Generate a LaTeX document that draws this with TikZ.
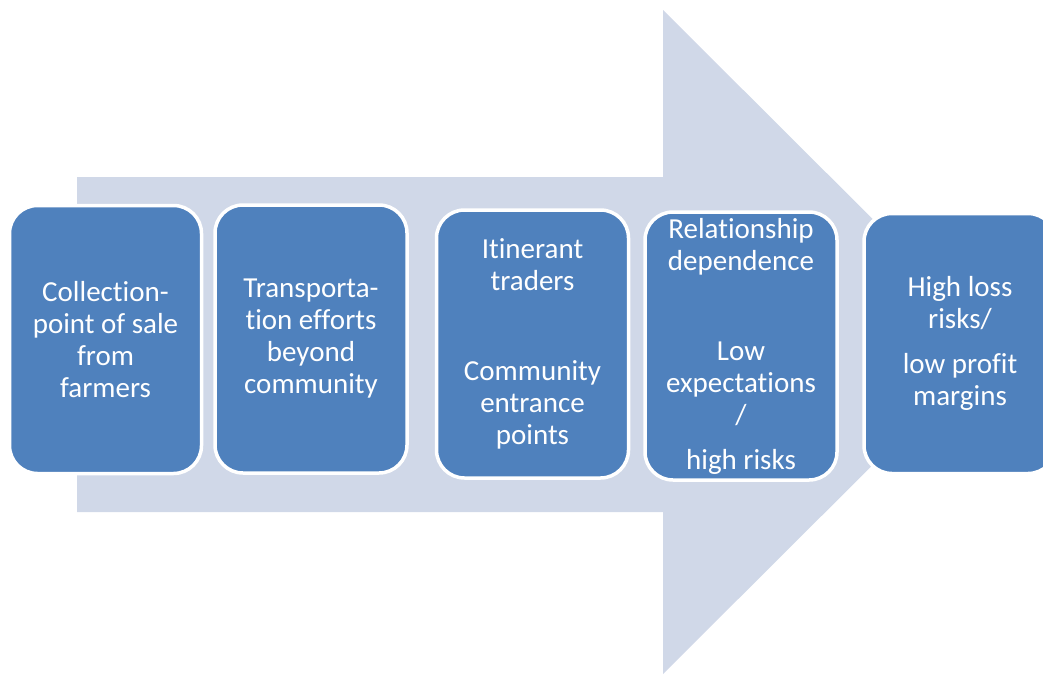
\documentclass[tikz,border=0pt]{standalone}
\usepackage{fontspec}
\setmainfont[Ligatures=NoCommon]{Carlito}
\definecolor{arrowfill}{HTML}{D0D8E8}
\definecolor{boxfill}{HTML}{4F81BD}
\begin{document}
\begin{tikzpicture}[x=1pt,y=-1pt,
	stagebox/.style={rectangle,rounded corners=28pt,fill=boxfill,draw=white,line width=3.5pt,
		minimum width=192pt,minimum height=268pt,inner sep=0pt,text=white,align=center,
		font=\fontsize{29}{32}\selectfont}]
	\clip (0,0) rectangle (1043,675);
	\fill[arrowfill] (77,177)--(663,177)--(663,10)--(996,342)--(663,674)--(663,512)--(77,512)--cycle;
	\node[stagebox] (collect) at (105.5,339.5) {Collection-\\point of sale\\from\\farmers};
	\node[stagebox] (transport) at (311,339) {Transporta-\\tion efforts\\beyond\\community};
	\node[stagebox] (traders) at (532.5,344) {Itinerant\\traders\\[58pt]Community\\entrance\\points};
	\node[stagebox] (relation) at (741,346) {Relationship\\dependence\\[58pt]Low\\expectations\\/\\[13pt]high risks};
	\node[stagebox,minimum height=260pt] (loss) at (960,343.5) {High loss\\risks/\\[13pt]low profit\\margins};
\end{tikzpicture}
\end{document}
